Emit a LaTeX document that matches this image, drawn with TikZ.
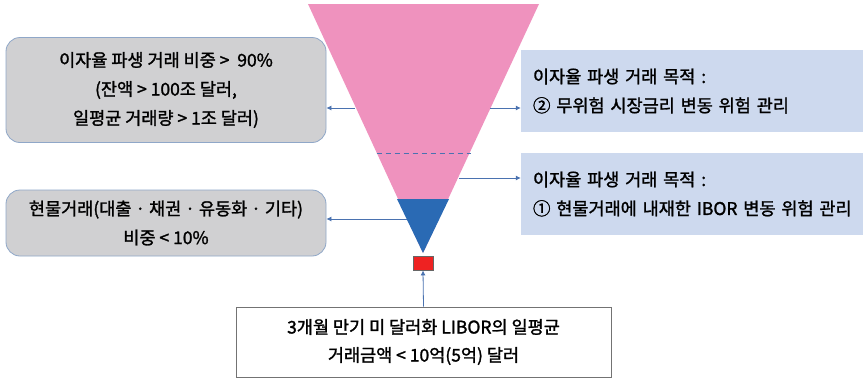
\documentclass[tikz,border=0pt]{standalone}
\usepackage{fontspec}
\setmainfont{Noto Sans CJK KR}[FakeBold=1.5]
\usetikzlibrary{arrows.meta}
\definecolor{pinkc}{HTML}{EF92BE}
\definecolor{bluec}{HTML}{2A6AB4}
\definecolor{redc}{HTML}{EE2222}
\definecolor{arrc}{HTML}{4A72B0}
\definecolor{grayfill}{HTML}{D0D0D2}
\definecolor{grayedge}{HTML}{8FA7C8}
\definecolor{lightblue}{HTML}{CDD9EE}
\tikzset{
  graybox/.style={draw=grayedge, fill=grayfill, rounded corners=14pt, line width=0.8pt, align=center, font=\fontsize{17.5}{29}\selectfont, inner sep=0pt},
  bluebox/.style={fill=lightblue, align=left, font=\fontsize{17.5}{29}\selectfont, inner xsep=12pt, inner ysep=0pt},
  plainbox/.style={draw=black!55, fill=white, line width=0.8pt, align=center, font=\fontsize{17.5}{28}\selectfont, inner sep=0pt},
  arr/.style={draw=arrc, line width=0.8pt, -{Latex[length=5pt,width=5pt]}},
}
\begin{document}
\begin{tikzpicture}[x=1pt,y=-1pt]
\useasboundingbox (0,0) rectangle (863,378);
% funnel
\coordinate (tl) at (308,4);
\coordinate (tr) at (539,4);
\coordinate (ap) at (423,253);
\fill[pinkc] (tl) -- (tr) -- (ap) -- cycle;
\fill[bluec] (397,199) -- (449,199) -- (ap) -- cycle;
\draw[arrc, dash pattern=on 5pt off 4pt, line width=0.9pt] (376.5,153) -- (470.5,153);
% boxes
\node[graybox, minimum width=320pt, minimum height=105pt] (lt) at (166,90)
  {이자율 파생 거래 비중 >\ \ 90\%\\(잔액 > 100조 달러,\\일평균 거래량 > 1조 달러)};
\node[graybox, minimum width=320pt, minimum height=66pt] (lb) at (166,223)
  {현물거래(대출 · 채권 · 유동화 · 기타)\\비중 < 10\%};
\node[bluebox, text width=330pt, minimum height=82pt] (rt) at (698,91)
  {이자율 파생 거래 목적 :\\② 무위험 시장금리 변동 위험 관리};
\node[bluebox, text width=330pt, minimum height=82pt] (rb) at (698,194)
  {이자율 파생 거래 목적 :\\① 현물거래에 내재한 IBOR 변동 위험 관리};
\node[plainbox, minimum width=375pt, minimum height=70pt] (bt) at (423.5,342)
  {3개월 만기 미 달러화 LIBOR의 일평균\\거래금액 < 10억(5억) 달러};
\node[draw=black!60, fill=redc, line width=0.8pt, minimum width=20pt, minimum height=14pt, inner sep=0pt] (rd) at (423,263) {};
% connector origins on funnel edges
\coordinate (pl1) at (355,108);
\coordinate (pr1) at (490,108);
\coordinate (pr2) at (459,178);
\coordinate (pl2) at (407,219);
\draw[arr] (pl1) -- (lt.east |- pl1);
\draw[arr] (pr1) -- (rt.west |- pr1);
\draw[arr] (pr2) -- (rb.west |- pr2);
\draw[arr] (pl2) -- (lb.east |- pl2);
\draw[arr] (bt.north) -- (rd.south);
\end{tikzpicture}
\end{document}
